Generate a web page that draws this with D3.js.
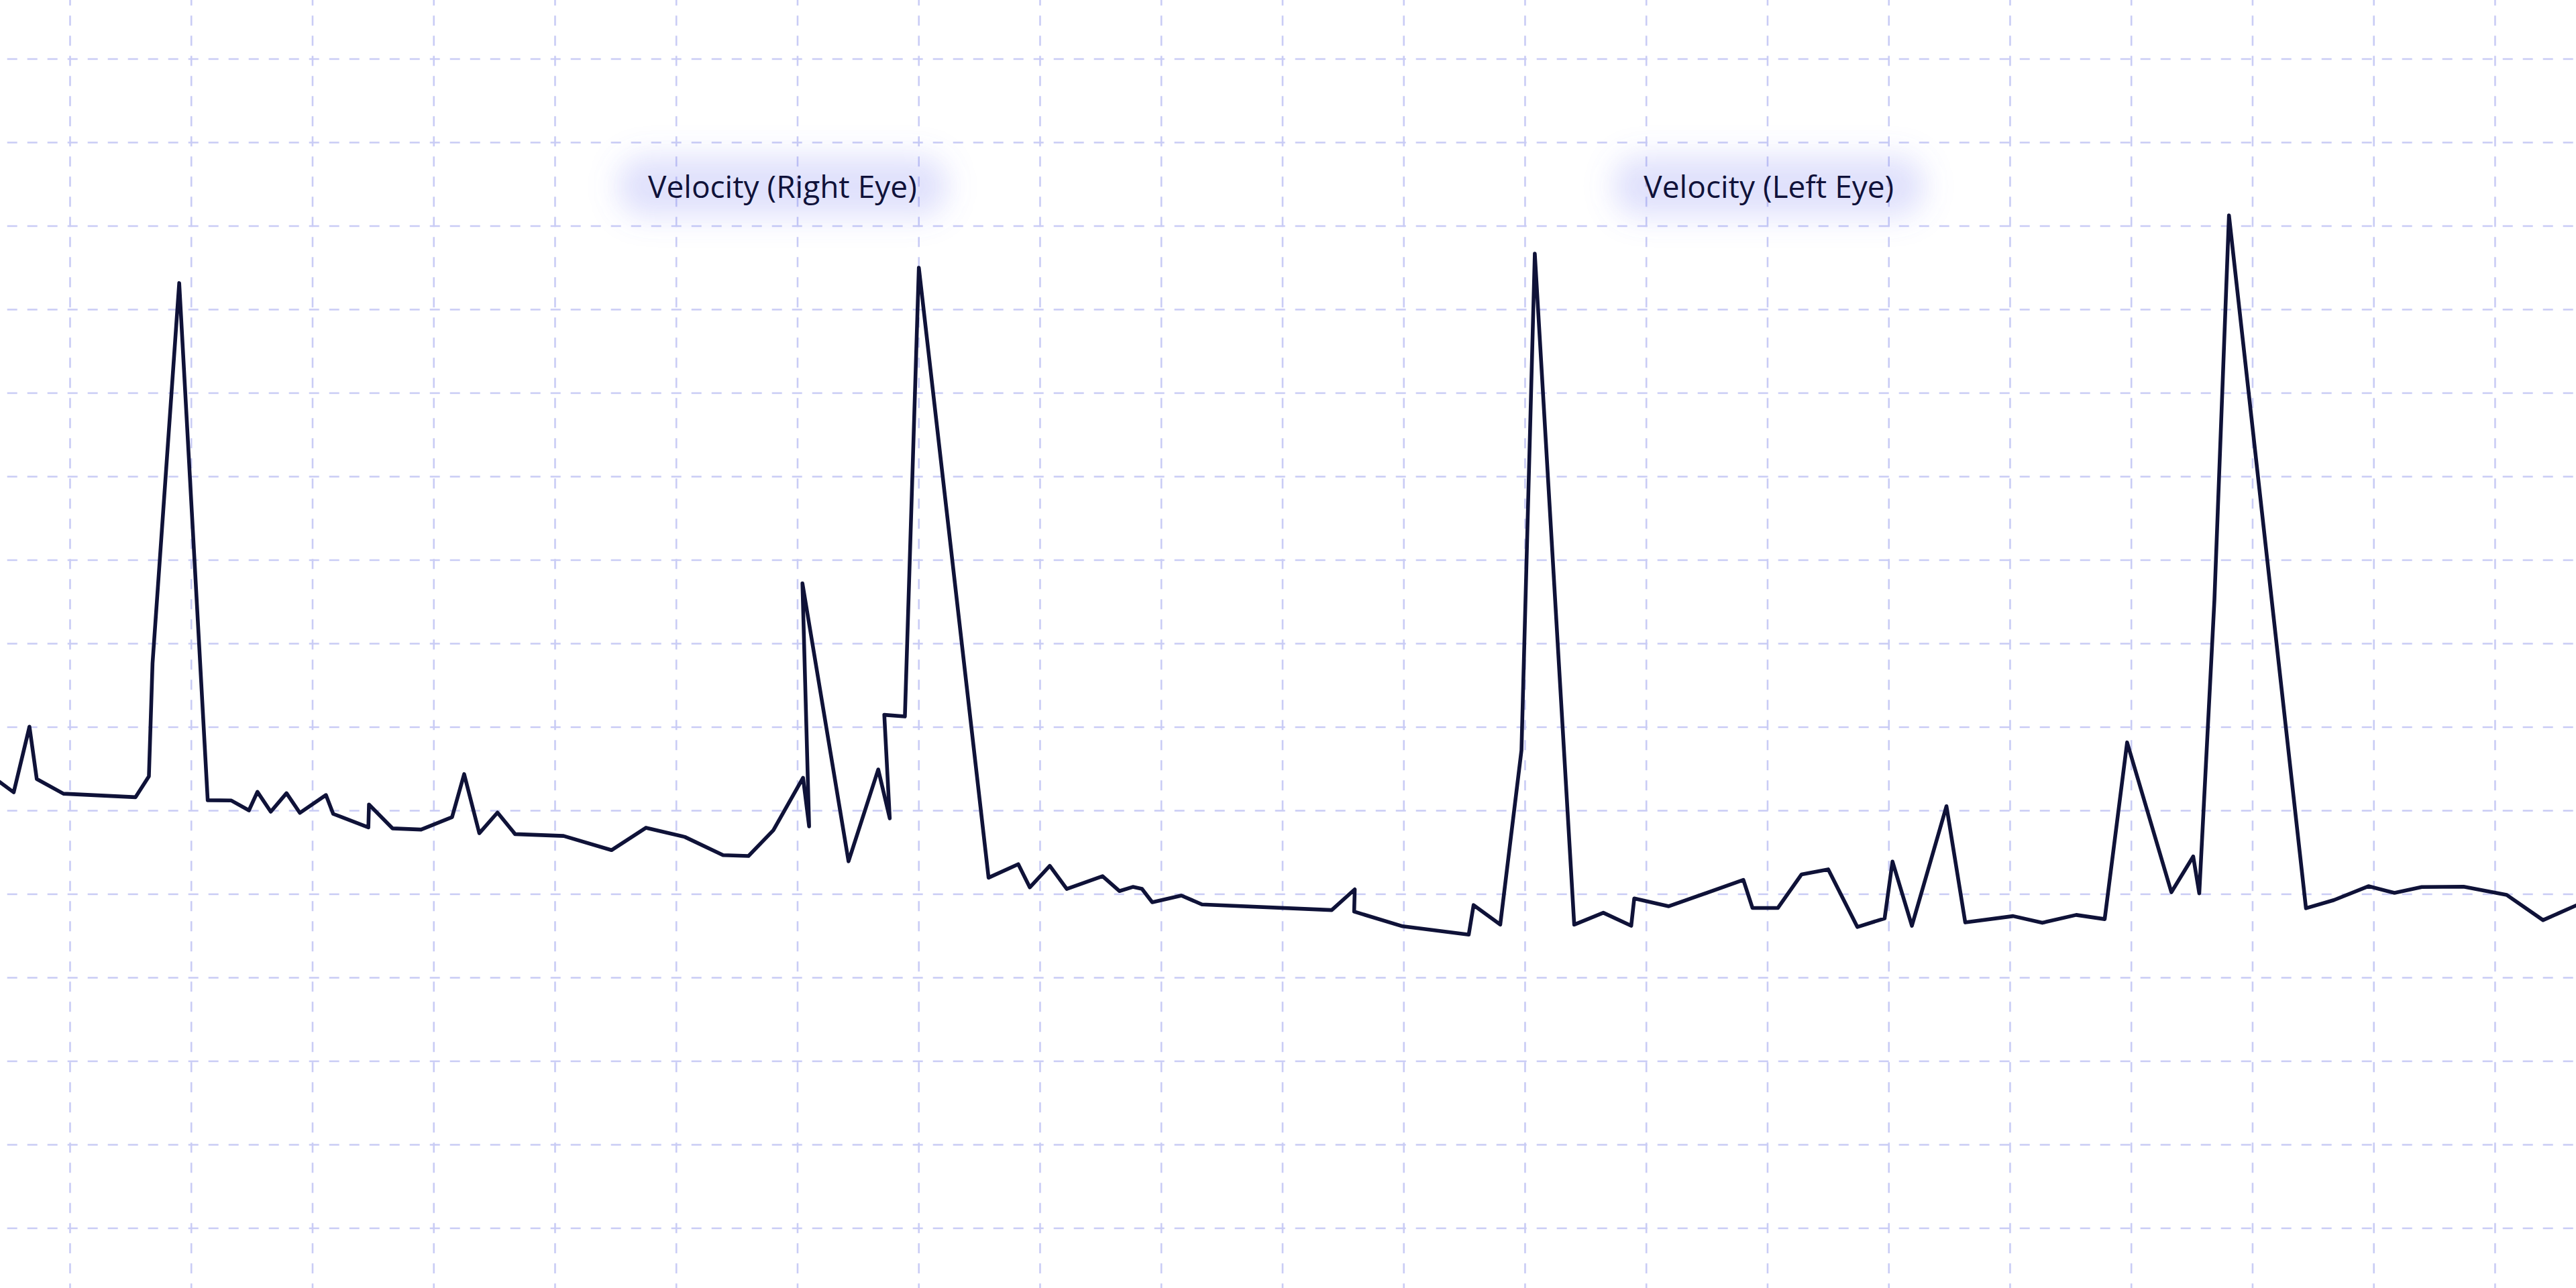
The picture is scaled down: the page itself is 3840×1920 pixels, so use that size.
<!DOCTYPE html>
<html>
<head>
<meta charset="utf-8">
<script src="https://cdn.jsdelivr.net/npm/d3@7"></script>
<style>
  html, body { margin: 0; padding: 0; background: #ffffff; }
  svg { display: block; }
</style>
</head>
<body>
<svg id="chart" width="3840" height="1920"></svg>
<script>
// ---- data (time in ms, velocity in deg/s) ----
const timeMs = [
  8.4, 10.7, 13.3, 14.5, 18.9, 30.8, 33.0, 33.6, 38.0, 42.7,
  46.6, 49.5, 50.9, 53.1, 55.7, 57.9, 62.2, 63.4, 69.2, 69.3,
  73.2, 77.9, 83.0, 85.0, 87.5, 90.5, 93.4, 101.4, 109.3, 115.0,
  121.4, 127.7, 131.9, 136.0, 140.9, 141.9, 140.8, 148.4, 153.3, 155.2,
  154.3, 157.7, 160.0, 171.5, 176.4, 178.3, 181.6, 184.4, 190.3, 193.1,
  195.3, 196.8, 198.5, 203.3, 206.7, 228.1, 231.9, 231.8, 239.8, 250.7,
  251.5, 255.9, 259.4, 261.6, 268.1, 272.9, 277.5, 278.0, 283.7, 296.0,
  297.5, 301.7, 305.6, 310.0, 314.8, 319.3, 320.6, 323.8, 329.5, 332.6,
  340.5, 345.3, 350.9, 355.6, 359.3, 366.6, 370.2, 371.2, 373.7, 376.1,
  388.8, 393.4, 399.1, 403.4, 407.9, 414.8, 421.9, 427.9, 433.3
];
const velocity = [
  267.2, 261.0, 300.3, 269.0, 260.2, 258.1, 270.6, 338.2, 565.9, 256.3,
  256.1, 250.2, 261.3, 249.4, 260.5, 248.7, 259.4, 248.1, 240.0, 253.7,
  239.4, 238.7, 246.1, 271.9, 236.5, 248.9, 236.0, 234.9, 226.4, 239.8,
  234.3, 223.4, 222.9, 238.3, 269.7, 240.6, 386.1, 219.7, 274.7, 245.4,
  307.4, 306.4, 575.1, 209.9, 218.0, 204.1, 217.0, 203.2, 210.8, 201.9,
  204.4, 203.2, 195.2, 199.2, 193.9, 190.5, 202.9, 189.6, 180.8, 175.8,
  193.5, 181.8, 286.2, 583.5, 181.8, 188.9, 181.1, 197.5, 192.8, 208.6,
  191.8, 191.8, 211.9, 214.9, 180.4, 185.5, 219.6, 181.1, 252.7, 183.1,
  186.9, 182.9, 187.6, 185.1, 290.9, 201.2, 222.6, 200.5, 376.3, 606.4,
  191.6, 196.5, 204.8, 200.8, 204.3, 204.5, 199.6, 184.5, 193.2
];
const xTicks = [20, 40, 60, 80, 100, 120, 140, 160, 180, 200, 220, 240, 260, 280, 300, 320, 340, 360, 380, 400, 420];
const yTicks = [0, 50, 100, 150, 200, 250, 300, 350, 400, 450, 500, 550, 600, 650, 700];
const seriesLabels = ["Velocity (Right Eye)", "Velocity (Left Eye)"];
const labelAnchorMs = [137.5, 300.2];
const labelAnchorVel = [617, 617];

// ---- layout ----
const W = 3840, H = 1920;
const xDomain = [8.44, 433.34];
const yDomain = [-35.74, 735.35];

const svg = d3.select("#chart");
const x = d3.scaleLinear().domain(xDomain).range([0, W]);
const y = d3.scaleLinear().domain(yDomain).range([H, 0]);

const gridColor = "#c9ccf5";

// defs: glow filter for labels
const defs = svg.append("defs");
const f = defs.append("filter").attr("id", "glow")
  .attr("x", "-50%").attr("y", "-100%").attr("width", "200%").attr("height", "300%");
f.append("feGaussianBlur").attr("stdDeviation", 22);

// grid lines (horizontal)
svg.append("g").attr("class", "grid-y")
  .selectAll("line").data(yTicks).join("line")
  .attr("x1", 0).attr("x2", W)
  .attr("y1", d => y(d)).attr("y2", d => y(d))
  .attr("stroke", gridColor)
  .attr("stroke-width", 2.6)
  .attr("stroke-dasharray", "15 15")
  .attr("stroke-dashoffset", 19.3);

// grid lines (vertical)
svg.append("g").attr("class", "grid-x")
  .selectAll("line").data(xTicks).join("line")
  .attr("x1", d => x(d)).attr("x2", d => x(d))
  .attr("y1", 0).attr("y2", H)
  .attr("stroke", gridColor)
  .attr("stroke-width", 2.6)
  .attr("stroke-dasharray", "15 15")
  .attr("stroke-dashoffset", 6.7);

// series line
const pts = timeMs.map((t, i) => ({ t, v: velocity[i] }));
const line = d3.line().x(d => x(d.t)).y(d => y(d.v));
svg.append("path")
  .datum(pts)
  .attr("d", line)
  .attr("fill", "none")
  .attr("stroke", "#0f1238")
  .attr("stroke-width", 5.6)
  .attr("stroke-linejoin", "round")
  .attr("stroke-linecap", "round");

// labels with glow
const lg = svg.append("g").attr("class", "labels");
seriesLabels.forEach((txt, i) => {
  const g = lg.append("g");
  const cx = x(labelAnchorMs[i]);
  const cy = y(labelAnchorVel[i]);
  const glowRect = g.append("rect");
  const t = g.append("text")
    .attr("x", cx).attr("y", cy)
    .attr("text-anchor", "middle")
    .attr("font-family", "'Open Sans', 'Noto Sans', sans-serif")
    .attr("font-size", 46)
    .attr("fill", "#10123a")
    .text(txt);
  const bb = t.node().getBBox();
  glowRect
    .attr("x", bb.x - 45).attr("y", cy - 62)
    .attr("width", bb.width + 90).attr("height", 90)
    .attr("rx", 40)
    .attr("fill", "rgba(115,120,240,0.22)")
    .attr("filter", "url(#glow)");
});
</script>
</body>
</html>
